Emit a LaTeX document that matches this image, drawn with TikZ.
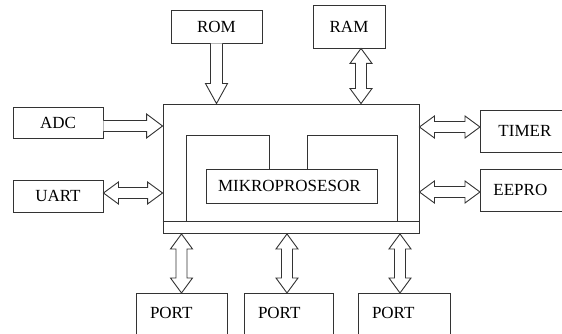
\documentclass[tikz,border=0pt]{standalone}
\usepackage{fontspec}
\setmainfont{Liberation Serif}
\usetikzlibrary{calc}
\tikzset{
  ln/.style={draw=black!80, line width=0.9pt},
  box/.style={ln, inner sep=0pt, font=\fontsize{17}{19}\selectfont},
  arr/.style={ln, fill=white, line join=miter},
  vsgl/.style={arr, to path={let \p1=(\tikztostart), \p2=(\tikztotarget) in
     (\x1-6pt,\y1) -- (\x1-6pt,\y2+20pt) -- (\x1-11pt,\y2+20pt) -- (\x1,\y2)
     -- (\x1+11pt,\y2+20pt) -- (\x1+6pt,\y2+20pt) -- (\x1+6pt,\y1)}},
  hsgl/.style={arr, to path={let \p1=(\tikztostart), \p2=(\tikztotarget) in
     (\x1,\y1+5.5pt) -- (\x2-16pt,\y1+5.5pt) -- (\x2-16pt,\y1+12pt) -- (\x2,\y1)
     -- (\x2-16pt,\y1-12pt) -- (\x2-16pt,\y1-5.5pt) -- (\x1,\y1-5.5pt)}},
  vdbl/.style={arr, to path={let \p1=(\tikztostart), \p2=(\tikztotarget), \n1={15*sign(\y2-\y1)} in
     (\x1,\y1) -- ({\x1+11pt},{\y1+\n1*1pt}) -- ({\x1+5.5pt},{\y1+\n1*1pt})
     -- ({\x1+5.5pt},{\y2-\n1*1pt}) -- ({\x1+11pt},{\y2-\n1*1pt}) -- (\x1,\y2)
     -- ({\x1-11pt},{\y2-\n1*1pt}) -- ({\x1-5.5pt},{\y2-\n1*1pt})
     -- ({\x1-5.5pt},{\y1+\n1*1pt}) -- ({\x1-11pt},{\y1+\n1*1pt}) -- cycle}},
  hdbl/.style={arr, to path={let \p1=(\tikztostart), \p2=(\tikztotarget), \n1={15*sign(\x2-\x1)} in
     (\x1,\y1) -- ({\x1+\n1*1pt},{\y1+11pt}) -- ({\x1+\n1*1pt},{\y1+5.5pt})
     -- ({\x2-\n1*1pt},{\y1+5.5pt}) -- ({\x2-\n1*1pt},{\y1+11pt}) -- (\x2,\y1)
     -- ({\x2-\n1*1pt},{\y1-11pt}) -- ({\x2-\n1*1pt},{\y1-5.5pt})
     -- ({\x1+\n1*1pt},{\y1-5.5pt}) -- ({\x1+\n1*1pt},{\y1-11pt}) -- cycle}},
  portbox/.style={box, anchor=north, inner xsep=14pt, inner ysep=0pt, align=left,
     text height=25pt, text depth=27pt},
}
\begin{document}
\begin{tikzpicture}[x=1pt,y=-1pt]
\useasboundingbox (0,0) rectangle (562,334);
\clip (0,0) rectangle (562,334);

\node[box, minimum width=91pt, minimum height=33pt] (rom) at (216.5,26.5) {ROM};
\node[box, minimum width=72pt, minimum height=43pt] (ram) at (349,26.5) {RAM};
\node[box, minimum width=90pt, minimum height=31pt] (adc) at (58,122.5) {ADC};
\node[box, minimum width=90pt, minimum height=32pt] (uart) at (58,196) {UART};
\node[box, anchor=west, minimum height=42pt, inner xsep=18pt, text width=64pt, align=left] (timer) at (480,131) {TIMER};
\node[box, anchor=west, minimum height=42pt, inner xsep=13pt, text width=74pt, align=left] (eepro) at (480,190) {EEPRO};

\node[box, minimum width=256pt, minimum height=129pt] (main) at (291,168.5) {};
\node[box, minimum height=34pt, inner xsep=12pt, text width=147pt, align=left] (mikro) at (291.5,186) {MIKROPROSESOR};

\node[portbox, text width=63pt] (p1) at (181.5,293) {PORT};
\node[portbox, text width=61pt] (p2) at (288.5,293) {PORT};
\node[portbox, text width=64pt] (p3) at (404,293) {PORT};

% bus and inner structure
\draw[ln] ($(main.south west)+(0,-12)$) -- ($(main.south east)+(0,-12)$);
\draw[ln] (186,221) |- (269,135) -- (mikro.north -| 269,0);
\draw[ln] (mikro.north -| 307,0) |- (397,135) -- (397,221);

% connectors
\draw[vsgl] (rom.south) to (main.north);
\draw[vdbl] ($(ram.south)+(12,0)$) to (main.north);
\draw[hsgl] ($(adc.east)+(0,3.5)$) to (main.west);
\draw[hdbl] ($(uart.east)+(0,-3)$) to (main.west);
\draw[hdbl] ($(timer.west)+(0,-4)$) to (main.east);
\draw[hdbl] ($(eepro.west)+(0,2)$) to (main.east);
\draw[vdbl] (p1.north) to ($(main.south)+(0,0.5)$);
\draw[vdbl] ($(p2.north)+(-1.5,0)$) to ($(main.south)+(0,0.5)$);
\draw[vdbl] ($(p3.north)+(-4,0)$) to ($(main.south)+(0,0.5)$);
\end{tikzpicture}
\end{document}
